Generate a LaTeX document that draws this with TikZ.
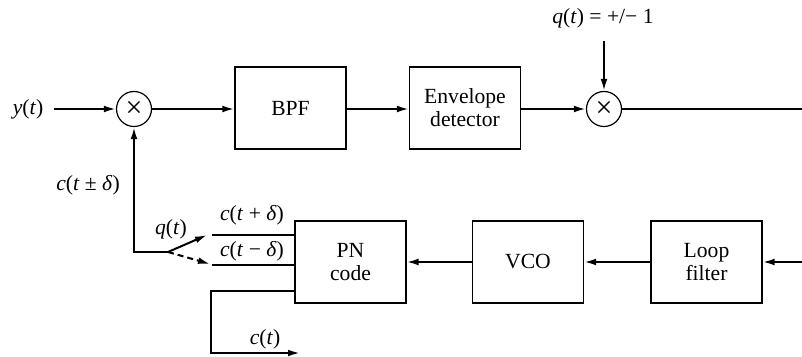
\documentclass[tikz,border=0pt]{standalone}
\usepackage{fontspec}
\setmainfont{Liberation Serif}
\usetikzlibrary{arrows.meta, positioning}
\tikzset{
  >={Latex[length=6pt,width=3.4pt]},
  font=\fontsize{10.8}{11.6}\selectfont,
  blk/.style={
    draw, line width=0.6pt, align=center, inner sep=1pt,
    minimum width=55.5pt, minimum height=41pt
  },
  mult/.style={
    draw, circle, line width=0.6pt, minimum size=17.5pt, inner sep=0pt,
    font=\fontsize{15}{15}\selectfont
  },
  sig/.style={line width=1pt},
  arr/.style={sig, ->},
  lbl/.style={inner sep=1pt}
}
\newcommand{\vv}[1]{\textit{#1}}

\begin{document}
\begin{tikzpicture}[x=0.5pt, y=-0.5pt]
  \useasboundingbox (0,0) rectangle (802,357);
  % upper chain
  \node[lbl] (yin) at (28,109) {\vv{y}(\vv{t})};
  \node[mult] (m1) at (134,109) {×};
  \node[blk] (bpf) at (290.5,108) {BPF};
  \node[blk] (env) at (465,108) {Envelope\\detector};
  \node[mult] (m2) at (604,109) {×};
  \node[lbl] (qlab) at (603,18) {\vv{q}(\vv{t}) = +/− 1};
  \coordinate (qtop) at (604,41);
  \coordinate (out) at (802,109);
  \draw[arr, shorten <=4pt] (yin) -- (m1);
  \draw[arr] (m1) -- (m1 -| bpf.west);
  \draw[arr] (bpf.east |- m1) -- (env.west |- m1);
  \draw[arr] (env.east |- m1) -- (m2);
  \draw[arr] (qtop) -- (m2);
  \draw[sig] (m2) -- (out);
  % lower chain
  \node[blk] (lf) at (706.5,262) {Loop\\filter};
  \node[blk] (vco) at (528,262) {VCO};
  \node[blk] (pn) at (350.5,262) {PN\\code};
  \coordinate (lfin) at (802,262);
  \draw[arr] (lfin) -- (lf);
  \draw[arr] (lf) -- (vco);
  \draw[arr] (vco) -- (pn);
  % early / late outputs and switch
  \coordinate (early) at (212,235);
  \coordinate (late) at (212,265);
  \coordinate (pvt) at (168,252);
  \coordinate (sw1) at (207,235);
  \coordinate (sw2) at (210,264);
  \draw[sig] (pn.west |- early) -- (early);
  \draw[sig] (pn.west |- late) -- (late);
  \draw[arr] (pvt) -- (sw1);
  \draw[arr, dash pattern=on 3pt off 2pt] (pvt) -- (sw2);
  \draw[arr] (pvt) -| (m1.south);
  % prompt output
  \coordinate (pr) at (211,291);
  \coordinate (prdn) at (211,353);
  \coordinate (prout) at (300,353);
  \draw[arr] (pn.west |- pr) -| (prdn) -- (prout);
  % labels
  \node[lbl] (cpm) at (88,185) {\vv{c}(\vv{t} ± \vv{δ})};
  \node[lbl] (qsw) at (171,229) {\vv{q}(\vv{t})};
  \node[lbl] (cpl) at (252,215) {\vv{c}(\vv{t} + \vv{δ})};
  \node[lbl] (cmi) at (252,251) {\vv{c}(\vv{t} − \vv{δ})};
  \node[lbl] (cp) at (265,339) {\vv{c}(\vv{t})};
\end{tikzpicture}
\end{document}
